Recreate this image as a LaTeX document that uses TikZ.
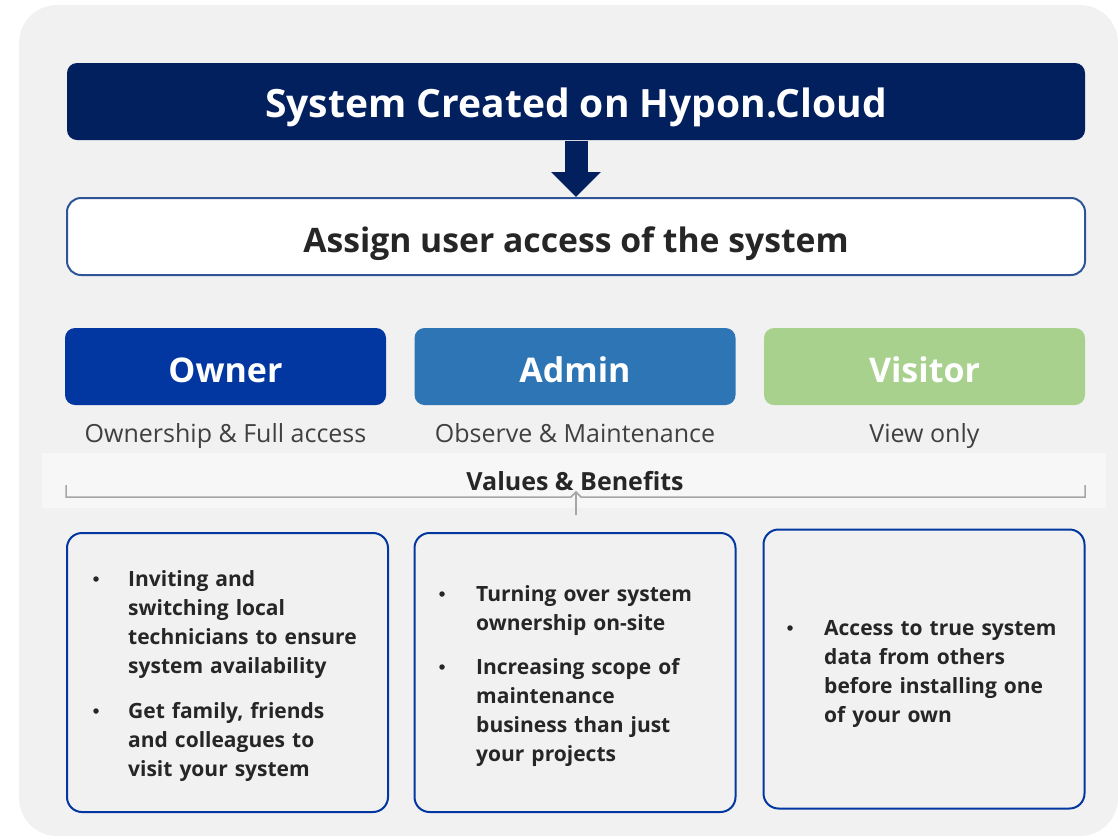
\documentclass[tikz,border=0pt]{standalone}
\usepackage{fontspec}
\setmainfont{Open Sans}
\usetikzlibrary{arrows.meta}
\definecolor{panel}{HTML}{F1F1F1}
\definecolor{band}{HTML}{F7F7F7}
\definecolor{navy}{HTML}{021F5E}
\definecolor{assignblue}{HTML}{2F5597}
\definecolor{ownerblue}{HTML}{0236A0}
\definecolor{adminblue}{HTML}{2E75B6}
\definecolor{visitgreen}{HTML}{A9D18E}
\definecolor{darktext}{HTML}{262626}
\definecolor{subtext}{HTML}{404040}
\definecolor{bracegray}{HTML}{A6A6A6}
\tikzset{
  bandtext/.style={text height=31pt, text depth=0pt, inner sep=0pt},
  rolebox/.style={bandtext, rounded corners=10pt, minimum width=321pt, minimum height=77pt,
    text=white, font=\fontsize{34}{38}\selectfont\bfseries},
  subtitle/.style={anchor=base, inner sep=0pt, text=subtext, font=\fontsize{25}{28}\selectfont},
  benefitbox/.style={draw=ownerblue, line width=2pt, rounded corners=15pt,
    minimum width=321pt, minimum height=279pt, inner sep=0pt},
  bullettext/.style={anchor=north west, inner sep=0pt, align=left, text=darktext,
    font=\fontsize{21}{29}\selectfont\bfseries},
  bulletdot/.style={circle, fill=darktext, minimum size=5.5pt, inner sep=0pt},
}
\begin{document}
\begin{tikzpicture}[x=1pt,y=-1pt]
\useasboundingbox (0,0) rectangle (1118,839);
\begin{scope}
\clip (0,0) rectangle (1118,839);
\fill[panel, rounded corners=38pt] (19,5) rectangle (1118,836);
\end{scope}
% title
\node[bandtext, fill=navy, rounded corners=10pt, minimum width=1018pt, minimum height=77pt,
  text=white, font=\fontsize{39}{44}\selectfont\bfseries] (title) at (576,101.5)
  {System Created on Hypon.Cloud};
% assign
\node[bandtext, fill=white, draw=assignblue, line width=2pt, rounded corners=14pt,
  minimum width=1018pt, minimum height=77pt, text=darktext,
  font=\fontsize{33.7}{38}\selectfont\bfseries] (assign) at (576,236.5)
  {Assign user access of the system};
\draw[navy, line width=23pt, -{Triangle[width=48pt,length=25pt]}]
  ([yshift=-1pt]title.south) -- (assign.north);
% roles
\node[rolebox, fill=ownerblue] (owner) at (225.5,366.5) {Owner};
\node[rolebox, fill=adminblue] (admin) at (575,366.5) {Admin};
\node[rolebox, fill=visitgreen] (visitor) at (924.5,366.5) {Visitor};
\node[subtitle] (ownersub) at (225.5,442) {Ownership \& Full access};
\node[subtitle] (adminsub) at (575,442) {Observe \& Maintenance};
\node[subtitle] (visitorsub) at (924.5,442) {View only};
% values band
\fill[band] (42,453) rectangle (1106,508);
\node[anchor=base, inner sep=0pt, text=darktext, font=\fontsize{25}{28}\selectfont\bfseries]
  (values) at (575,490) {Values \& Benefits};
\coordinate (bl) at (66,485);
\coordinate (br) at (1085,485);
\coordinate (bm) at (576,497);
\coordinate (bt) at (576,515);
\draw[bracegray, line width=1.5pt] (bl) |- ([xshift=-5pt]bm) -- ([yshift=5pt]bm) -- ([xshift=5pt]bm) -| (br);
\draw[bracegray, line width=1.5pt] ([yshift=5pt]bm) -- (bt);
% benefit boxes
\node[benefitbox] (b1) at (227.5,672.5) {};
\node[benefitbox] (b2) at (575,672.5) {};
\node[benefitbox] (b3) at (924,669) {};
% owner bullets
\node[bulletdot] (d11) at (96,579) {};
\node[bullettext, text width=250pt] (t11) at (128,570)
  {Inviting and\\switching local\\technicians to ensure\\system availability};
\node[bulletdot] (d12) at (96,711) {};
\node[bullettext, text width=250pt] (t12) at (128,702)
  {Get family, friends\\and colleagues to\\visit your system};
% admin bullets
\node[bulletdot] (d21) at (442,594) {};
\node[bullettext, text width=250pt] (t21) at (476,585)
  {Turning over system\\ownership on-site};
\node[bulletdot] (d22) at (442,667) {};
\node[bullettext, text width=250pt] (t22) at (476,658)
  {Increasing scope of\\maintenance\\business than just\\your projects};
% visitor bullets
\node[bulletdot] (d31) at (790,628) {};
\node[bullettext, text width=250pt] (t31) at (824,620)
  {Access to true system\\data from others\\before installing one\\of your own};
\end{tikzpicture}
\end{document}
